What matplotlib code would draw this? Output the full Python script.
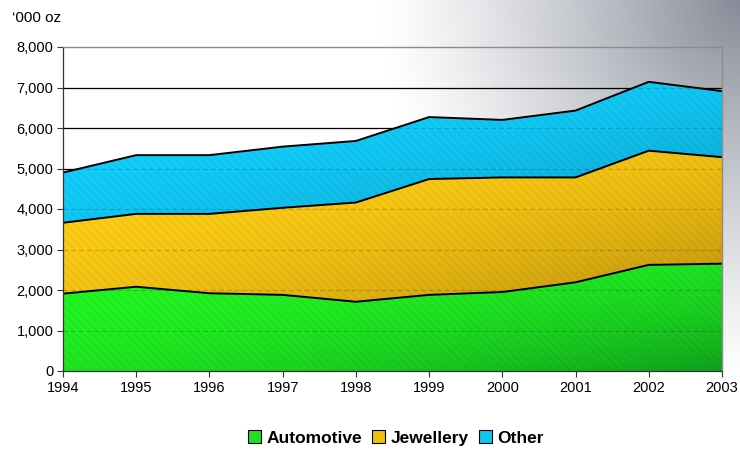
import numpy as np
import matplotlib
matplotlib.use("Agg")
import matplotlib.pyplot as plt
from matplotlib.patches import Patch
from matplotlib.colors import to_rgb

years = [1994, 1995, 1996, 1997, 1998, 1999, 2000, 2001, 2002, 2003]
automotive = [1910, 2080, 1920, 1880, 1710, 1880, 1950, 2190, 2620, 2650]
jewellery = [1750, 1800, 1960, 2150, 2450, 2860, 2830, 2590, 2820, 2630]
other = [1240, 1450, 1450, 1510, 1520, 1530, 1420, 1650, 1700, 1630]
series_names = ["Automotive", "Jewellery", "Other"]
yticks = [0, 1000, 2000, 3000, 4000, 5000, 6000, 7000, 8000]

plt.rcParams['font.family'] = ['Liberation Sans', 'DejaVu Sans']
plt.rcParams['hatch.linewidth'] = 0.5

fig = plt.figure(figsize=(7.4, 4.53), dpi=100)

# background gradient (grey at top-right corner)
bg = fig.add_axes([0, 0, 1, 1], zorder=-10)
bg.set_axis_off()
H, W = 453, 740
yy, xx = np.mgrid[0:H, 0:W]
d = np.sqrt(((W - xx) / 360.0) ** 2 + (yy / 380.0) ** 2)
t = np.clip(1 - d, 0, 1) ** 1.2
top = np.array(to_rgb('#868c98'))
img = np.ones((H, W, 3)) * (1 - t[..., None]) + top * t[..., None]
bg.imshow(img, extent=[0, 1, 0, 1], origin='upper', aspect='auto')
bg.set_xlim(0, 1); bg.set_ylim(0, 1)

ax = fig.add_axes([63/740, 1-371/453, (722-63)/740, (371-47)/453])
ax.set_facecolor('none')

x = np.array(years, dtype=float)
a = np.array(automotive, float)
j = np.array(jewellery, float)
o = np.array(other, float)
c1 = a
c2 = a + j
c3 = a + j + o

def grad_fill(lower, upper, light, dark, z):
    poly = ax.fill_between(x, lower, upper, facecolor='none', edgecolor='none', zorder=z)
    ymin, ymax = lower.min(), upper.max()
    nx, ny = 300, 200
    X, Y = np.meshgrid(np.linspace(0, 1, nx), np.linspace(0, 1, ny))
    tt = np.clip(0.45 * (1 - Y) + 0.45 * X, 0, 1) ** 2.2
    L = np.array(to_rgb(light)); D = np.array(to_rgb(dark))
    rgb = L * (1 - tt[..., None]) + D * tt[..., None]
    im = ax.imshow(rgb, extent=[x[0], x[-1], ymin, ymax], origin='lower',
                   aspect='auto', zorder=z)
    im.set_clip_path(poly.get_paths()[0], transform=ax.transData)
    ax.fill_between(x, lower, upper, facecolor='none', edgecolor=(0, 0, 0, 0.08),
                    hatch='\\\\\\\\', linewidth=0, zorder=z + 0.1)

grad_fill(np.zeros_like(c1), c1, '#22f522', '#0b8a1a', 2)
grad_fill(c1, c2, '#ffcf14', '#a67c0c', 2)
grad_fill(c2, c3, '#12d2ff', '#0a8ab0', 2)

for yv in (c1, c2, c3):
    ax.plot(x, yv, color='black', lw=1.4, zorder=4, solid_joinstyle='round')

# gridlines
for yt in yticks[1:-1]:
    ax.axhline(yt, color='black', lw=0.9, zorder=1)
    ax.axhline(yt, color=(0, 0, 0, 0.18), lw=0.8, ls=(0, (4, 3)), zorder=3)

ax.set_xlim(x[0], x[-1])
ax.set_ylim(0, 8000)
ax.set_yticks(yticks)
ax.set_yticklabels([f"{v:,}" for v in yticks], fontsize=10.5)
ax.set_xticks(years)
ax.set_xticklabels([str(yv) for yv in years], fontsize=10.5)
ax.tick_params(axis='both', direction='out', length=4, width=0.8, color='#333333', pad=3)
for s in ('left', 'bottom'):
    ax.spines[s].set_color('#333333'); ax.spines[s].set_linewidth(0.9)
for s in ('top', 'right'):
    ax.spines[s].set_color('#8c8c8c'); ax.spines[s].set_linewidth(1.0)
for sp in ax.spines.values():
    sp.set_zorder(5)

fig.text(12/740, 1-18/453, '\u2018000 oz', fontsize=11, ha='left', va='center')

handles = [Patch(facecolor='#22dd22', edgecolor='black', lw=0.8),
           Patch(facecolor='#f0c010', edgecolor='black', lw=0.8),
           Patch(facecolor='#14c4f0', edgecolor='black', lw=0.8)]
fig.legend(handles, series_names, loc='center', bbox_to_anchor=(396/740, 1-438/453),
           ncol=3, frameon=False, prop={'weight': 'bold', 'size': 12.5},
           handlelength=0.75, handleheight=0.75, handletextpad=0.3, columnspacing=0.6)

fig.savefig('out.png', dpi=100)
